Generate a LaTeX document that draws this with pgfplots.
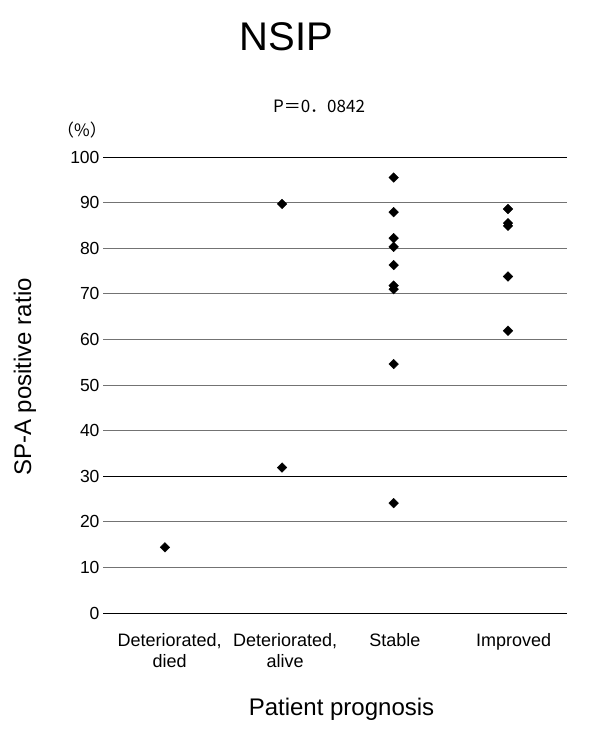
\documentclass[border=0pt]{standalone}
\usepackage{pgfplots}
\pgfplotsset{compat=1.18}
\usepackage{fontspec}
\setmainfont{Liberation Sans}
\newfontfamily\cjk{Noto Sans CJK JP}
\begin{document}
\begin{tikzpicture}[x=1pt,y=1pt]
\path[use as bounding box] (0,0) rectangle (600,744);
\begin{axis}[
  at={(103pt,131pt)}, anchor=south west,
  scale only axis, width=464pt, height=456pt,
  xmin=-0.542, xmax=3.516, ymin=0, ymax=100,
  ytick={0,10,...,100},
  xtick={0.04,1.05,2.01,3.05},
  xticklabels={{Deteriorated,\\died},{Deteriorated,\\alive},Stable,Improved},
  xticklabel style={align=center, font=\fontsize{18}{21}\selectfont, yshift=-17pt},
  yticklabel style={font=\fontsize{17.5}{20}\selectfont},
  /pgf/number format/assume math mode=true,
  axis line style={draw=none},
  major tick length=0pt,
  ymajorgrids,
  grid style={black!55, line width=0.9pt},
  extra y ticks={0,30,100},
  extra y tick labels={},
  extra y tick style={grid style={black, line width=0.9pt}},
  clip=false,
]
\addplot[only marks, mark=square*, mark size=3.4pt, mark options={rotate=45, fill=black, draw=black}]
coordinates {
(0,14.4)
(1.024,89.7) (1.024,31.9)
(2,95.5) (2,87.9) (2,82.2) (2,80.3) (2,76.3) (2,71.8) (2,71.0) (2,54.6) (2,24.1)
(3,88.6) (3,85.5) (3,84.9) (3,73.8) (3,61.9)
};
\end{axis}
\node[anchor=base, font=\fontsize{40}{48}\selectfont] at (286.5,693) {NSIP};
\node[anchor=base, font=\cjk\fontsize{17}{19}\selectfont] at (319,631) {P＝0．0842};
\node[anchor=base, font=\cjk\fontsize{17}{19}\selectfont] at (82,607) {（\%）};
\node[rotate=90, font=\fontsize{24}{28}\selectfont] at (25,367) {SP-A positive ratio};
\node[anchor=base, font=\fontsize{24}{28}\selectfont] at (341.5,28) {Patient prognosis};
\end{tikzpicture}
\end{document}
